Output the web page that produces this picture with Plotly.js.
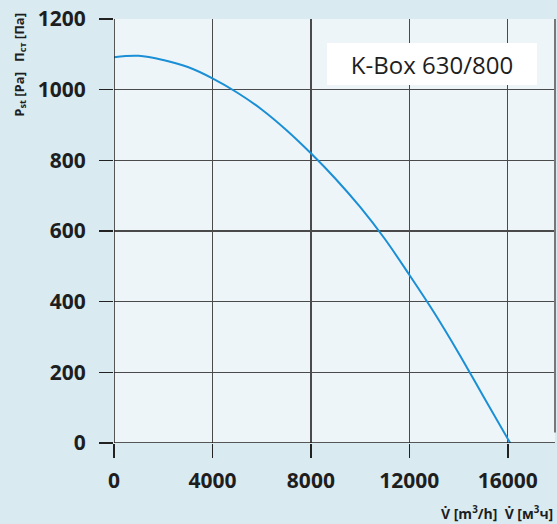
<!DOCTYPE html>
<html>
<head>
<meta charset="utf-8">
<script src="https://cdn.plot.ly/plotly-3.0.1.min.js"></script>
<style>
  html, body { margin: 0; padding: 0; background: #d9eaf1; }
  #chart { width: 557px; height: 524px; }
</style>
</head>
<body>
<div id="chart"></div>
<script>
// Fan characteristic: static pressure versus air flow
const flow = [0, 1000, 2000, 3000, 4000, 5000, 6000, 7000, 8000, 9000, 10000, 11000, 12000, 13000, 14000, 15000, 16100];
const pressure = [1092, 1096, 1084, 1064, 1032, 992, 944, 886, 820, 748, 668, 578, 476, 370, 255, 133, 0];

const xTicks = [0, 4000, 8000, 12000, 16000];
const yTicks = [0, 200, 400, 600, 800, 1000, 1200];

const modelName = 'K-Box 630/800';
const yLabel = 'P<sub>st</sub> [Pa]   П<sub>ст</sub> [Па]';
const xLabel = 'V\u0307 [m<sup>3</sup>/h]  V\u0307 [м<sup>3</sup>ч]';

const tickFont = { family: 'Open Sans, sans-serif', size: 21, color: '#1e1e1e', weight: 700 };

const trace = {
  x: flow,
  y: pressure,
  type: 'scatter',
  mode: 'lines',
  line: { color: '#1a8fd6', width: 2, shape: 'spline', smoothing: 1 },
  hoverinfo: 'x+y'
};

const layout = {
  width: 557,
  height: 524,
  margin: { l: 114, r: 2, t: 19, b: 81 },
  paper_bgcolor: '#d9eaf1',
  plot_bgcolor: '#eef5f8',
  showlegend: false,
  xaxis: {
    range: [0, 17920],
    tickvals: xTicks,
    ticktext: xTicks.map(String),
    ticks: 'outside',
    ticklen: 14,
    tickwidth: 1.5,
    tickcolor: '#222',
    tickfont: tickFont,
    ticklabelstandoff: 5,
    showgrid: true,
    gridcolor: '#4a4a4a',
    gridwidth: 1.3,
    zeroline: false,
    showline: false
  },
  yaxis: {
    range: [0, 1200],
    tickvals: yTicks,
    ticktext: yTicks.map(String),
    ticks: 'outside',
    ticklen: 14,
    tickwidth: 1.5,
    tickcolor: '#222',
    tickfont: tickFont,
    ticklabelstandoff: 9,
    showgrid: true,
    gridcolor: '#4a4a4a',
    gridwidth: 1.3,
    zeroline: false,
    showline: false
  },
  shapes: [
    // axes drawn over the grid
    { type: 'line', xref: 'paper', yref: 'y', x0: 0, x1: 1, y0: 0, y1: 0,
      line: { color: '#222', width: 1.5 } },
    { type: 'line', xref: 'x', yref: 'paper', x0: 0, x1: 0, y0: 0, y1: 1,
      line: { color: '#222', width: 1.5 } },
    // right border of the panel
    { type: 'line', xref: 'paper', yref: 'y', x0: 1, x1: 1, y0: 30, y1: 1200,
      line: { color: '#777', width: 2 } }
  ],
  annotations: [
    {
      text: modelName,
      xref: 'paper', yref: 'paper',
      x: 0.96, y: 0.893, xanchor: 'right', yanchor: 'middle',
      showarrow: false,
      font: { family: 'Open Sans, sans-serif', size: 24, color: '#1e1e1e' },
      bgcolor: '#ffffff',
      borderpad: 5,
      borderwidth: 0,
      width: 200,
      height: 32
    },
    {
      text: yLabel,
      xref: 'paper', yref: 'paper',
      x: -0.215, y: 1.02, xanchor: 'center', yanchor: 'top',
      textangle: -90,
      showarrow: false,
      font: { family: 'Open Sans, sans-serif', size: 13, color: '#1e1e1e', weight: 700 }
    },
    {
      text: xLabel,
      xref: 'paper', yref: 'paper',
      x: 1.0, y: -0.165, xanchor: 'right', yanchor: 'middle',
      showarrow: false,
      font: { family: 'Open Sans, sans-serif', size: 14, color: '#1e1e1e', weight: 700 }
    }
  ]
};

Plotly.newPlot('chart', [trace], layout, { displayModeBar: false, staticPlot: true });
</script>
</body>
</html>
